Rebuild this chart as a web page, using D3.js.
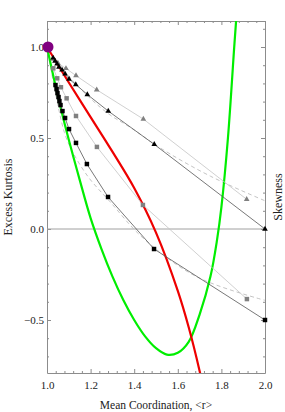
<!DOCTYPE html>
<html>
<head>
<meta charset="utf-8">
<script src="https://cdn.jsdelivr.net/npm/d3@7"></script>
<style>
  body { margin: 0; background: #fff; }
  text { font-family: "Liberation Serif", "DejaVu Serif", serif; }
</style>
</head>
<body>
<svg id="chart" width="285" height="412"></svg>
<script>
// Data
const xMajorTicks = [1.0, 1.2, 1.4, 1.6, 1.8, 2.0]
const yMajorTicks = [-0.5, 0.0, 0.5, 1.0]

// black squares
const blackSqX = [1.039, 1.044, 1.048, 1.053, 1.057, 1.062, 1.071, 1.083, 1.101, 1.133, 1.183, 1.280, 1.491, 2.0]
const blackSqY = [0.791, 0.769, 0.747, 0.725, 0.703, 0.681, 0.648, 0.610, 0.549, 0.473, 0.357, 0.176, -0.110, -0.5]
// grey squares
const greySqX = [1.029, 1.047, 1.064, 1.090, 1.133, 1.229, 1.440, 1.917]
const greySqY = [0.883, 0.828, 0.779, 0.718, 0.621, 0.451, 0.132, -0.385]
// black triangles
const blackTriX = [1.028, 1.037, 1.046, 1.055, 1.069, 1.083, 1.101, 1.132, 1.185, 1.281, 1.492, 2.0]
const blackTriY = [0.940, 0.923, 0.907, 0.890, 0.874, 0.852, 0.824, 0.794, 0.739, 0.648, 0.465, 0.0]
// grey triangles
const greyTriX = [1.028, 1.050, 1.087, 1.133, 1.228, 1.442, 1.916]
const greyTriY = [0.934, 0.912, 0.882, 0.843, 0.765, 0.604, 0.163]

// dashed curves
const dashKurtX = [1.0, 1.04, 1.08, 1.113, 1.188, 1.289, 1.44, 1.686, 2.0]
const dashKurtY = [1.0, 0.74, 0.53, 0.434, 0.288, 0.150, -0.049, -0.262, -0.392]
const dashSkewX = [1.0, 1.1, 1.21, 1.29, 1.38, 1.52, 1.75, 2.0]
const dashSkewY = [1.0, 0.84, 0.705, 0.626, 0.56, 0.445, 0.29, 0.155]

// red and green curves
const redX = [1.0, 1.1, 1.2, 1.3, 1.4, 1.5, 1.6, 1.65, 1.7, 1.73]
const redY = [1.0, 0.805, 0.615, 0.425, 0.225, -0.02, -0.34, -0.54, -0.78, -0.95]
const greenX = [1.0, 1.05, 1.1, 1.15, 1.2, 1.25, 1.3, 1.35, 1.4, 1.45, 1.5, 1.55, 1.6, 1.65, 1.7, 1.75, 1.78, 1.8, 1.83, 1.86, 1.88]
const greenY = [1.0, 0.73, 0.49, 0.27, 0.06, -0.11, -0.26, -0.39, -0.50, -0.59, -0.655, -0.69, -0.68, -0.62, -0.47, -0.26, -0.06, 0.12, 0.5, 1.02, 1.35]

const startX = [1.0]
const startY = [1.0]

const zip = (xs, ys) => xs.map((x, i) => [x, ys[i]])

// Layout
const svg = d3.select("#chart")
const plotLeft = 47, plotRight = 265, plotTop = 21, plotBottom = 373
const axisColor = '#8c8c8c'

const x = d3.scaleLinear().domain([1, 2]).range([plotLeft, plotRight])
const y = d3.scaleLinear().domain([-0.7912, 1.1429]).range([plotBottom, plotTop])

const xMinor = d3.range(1.0, 2.0001, 0.04).filter(v => Math.abs(v * 5 - Math.round(v * 5)) > 1e-6)
const yMinor = d3.range(-0.7, 1.1001, 0.1).filter(v => Math.abs(v * 2 - Math.round(v * 2)) > 1e-6)

svg.append('clipPath').attr('id', 'plot-clip')
    .append('rect')
    .attr('x', plotLeft).attr('y', plotTop)
    .attr('width', plotRight - plotLeft).attr('height', plotBottom - plotTop)

// Axes: major ticks with labels on left/bottom, mirrored plain ticks on top/right
function drawAxis(axisFn, translate, major, minor, labels, padding) {
    const g = svg.append('g').attr('transform', translate)
    g.call(axisFn(major).tickSizeInner(-4).tickSizeOuter(0).tickPadding(padding))
    g.selectAll('text')
        .style('font-family', '"Liberation Serif", serif')
        .style('font-size', '11px')
        .attr('fill', '#222')
        .text(d => labels ? d3.format('.1f')(d).replace('-', '\u2212') : '')
    const gm = g.append('g').call(axisFn(minor).tickSizeInner(-2).tickSizeOuter(0).tickFormat(''))
    gm.select('.domain').remove()
    gm.selectAll('text').remove()
    g.selectAll('path, line').attr('stroke', axisColor)
    return g
}
drawAxis(v => d3.axisBottom(x).tickValues(v), `translate(0,${plotBottom})`, xMajorTicks, xMinor, true, 8)
drawAxis(v => d3.axisTop(x).tickValues(v), `translate(0,${plotTop})`, xMajorTicks, xMinor, false, 3)
drawAxis(v => d3.axisLeft(y).tickValues(v), `translate(${plotLeft},0)`, yMajorTicks, yMinor, true, 3)
drawAxis(v => d3.axisRight(y).tickValues(v), `translate(${plotRight},0)`, yMajorTicks, yMinor, false, 3)

// zero line
svg.append('line')
    .attr('x1', plotLeft).attr('x2', plotRight)
    .attr('y1', y(0)).attr('y2', y(0))
    .attr('stroke', '#a0a0a0').attr('stroke-width', 1)

const plot = svg.append('g').attr('clip-path', 'url(#plot-clip)')

const smooth = d3.line().x(d => x(d[0])).y(d => y(d[1])).curve(d3.curveCatmullRom.alpha(0.5))
const straight = d3.line().x(d => x(d[0])).y(d => y(d[1]))

// dashed guide curves
plot.append('path').attr('d', smooth(zip(dashKurtX, dashKurtY)))
    .attr('fill', 'none').attr('stroke', '#bdbdbd').attr('stroke-width', 0.9).attr('stroke-dasharray', '4,3')
plot.append('path').attr('d', smooth(zip(dashSkewX, dashSkewY)))
    .attr('fill', 'none').attr('stroke', '#bdbdbd').attr('stroke-width', 0.9).attr('stroke-dasharray', '4,3')

// green and red curves
plot.append('path').attr('d', smooth(zip(greenX, greenY)))
    .attr('fill', 'none').attr('stroke', '#00ee00').attr('stroke-width', 2.2)
plot.append('path').attr('d', smooth(zip(redX, redY)))
    .attr('fill', 'none').attr('stroke', '#ee0000').attr('stroke-width', 2.2)

// series lines
const series = [
    { pts: zip(greyTriX, greyTriY), line: '#c4c4c4', fill: '#808080', shape: d3.symbolTriangle, size: 14 },
    { pts: zip(greySqX, greySqY), line: '#c4c4c4', fill: '#808080', shape: d3.symbolSquare, size: 20 },
    { pts: zip(blackTriX, blackTriY), line: '#555555', fill: '#000000', shape: d3.symbolTriangle, size: 14 },
    { pts: zip(blackSqX, blackSqY), line: '#555555', fill: '#000000', shape: d3.symbolSquare, size: 20 }
]
series.forEach(s => {
    plot.append('path').attr('d', straight(s.pts))
        .attr('fill', 'none').attr('stroke', s.line).attr('stroke-width', 0.8)
})
series.forEach(s => {
    svg.append('g').selectAll('path')
        .data(s.pts)
        .join('path')
        .attr('transform', d => `translate(${x(d[0])},${y(d[1])})`)
        .attr('d', d3.symbol(s.shape, s.size))
        .attr('fill', s.fill)
})

// start point
svg.selectAll('circle.start')
    .data(zip(startX, startY))
    .join('circle')
    .attr('class', 'start')
    .attr('cx', d => x(d[0]) + 1)
    .attr('cy', d => y(d[1]))
    .attr('r', 5.5)
    .attr('fill', '#800080')

// axis titles
svg.append('text')
    .attr('x', (plotLeft + plotRight) / 2).attr('y', 408.5)
    .attr('text-anchor', 'middle')
    .style('font-size', '11.5px')
    .attr('fill', '#222')
    .text('Mean Coordination, <r>')

svg.append('text')
    .attr('transform', `translate(12,${(plotTop + plotBottom) / 2}) rotate(-90)`)
    .attr('text-anchor', 'middle')
    .style('font-size', '12px')
    .attr('fill', '#222')
    .text('Excess Kurtosis')

svg.append('text')
    .attr('transform', `translate(282,${(plotTop + plotBottom) / 2}) rotate(-90)`)
    .attr('text-anchor', 'middle')
    .style('font-size', '12px')
    .attr('fill', '#222')
    .text('Skewness')
</script>
</body>
</html>
